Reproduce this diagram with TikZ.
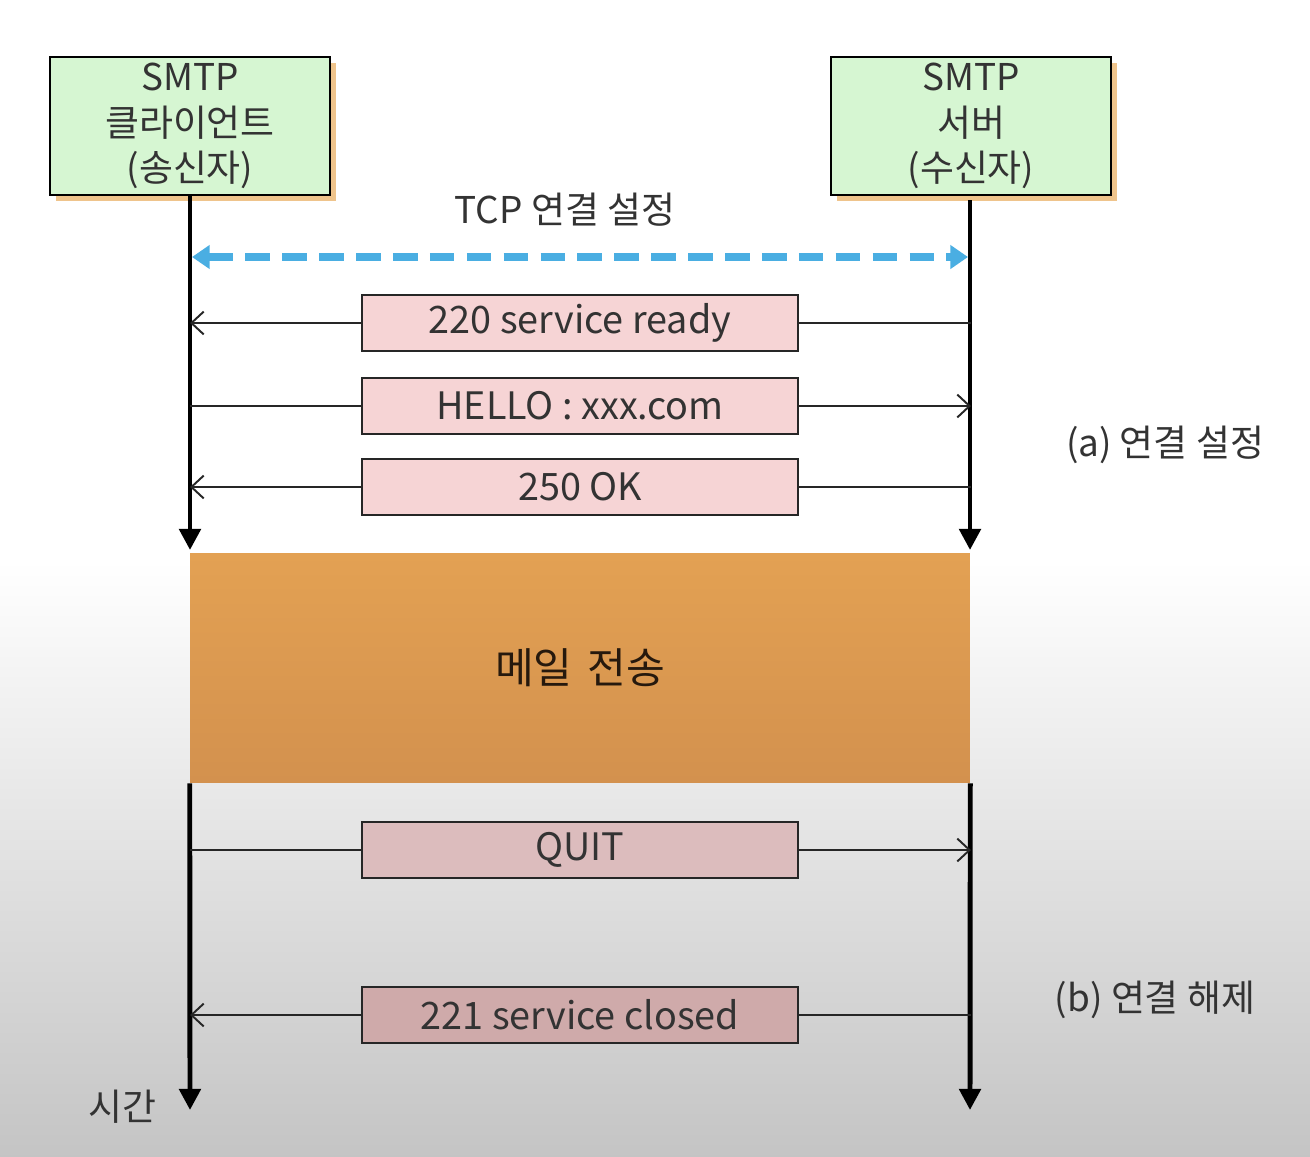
\documentclass[tikz,border=0pt]{standalone}
\usepackage{fontspec}
\setmainfont{Noto Sans CJK KR}
\usetikzlibrary{arrows.meta,shadows}

\definecolor{hostgreen}{HTML}{D6F6D2}
\definecolor{hostshadow}{HTML}{EFC48C}
\definecolor{tcpblue}{HTML}{4AAEE2}
\definecolor{mailtop}{HTML}{E3A153}
\definecolor{mailbot}{HTML}{D3914E}
\definecolor{txtgray}{HTML}{333333}
\definecolor{msgpink}{HTML}{F6D4D5}
\definecolor{quitpink}{HTML}{DCBCBD}
\definecolor{closepink}{HTML}{CFAAAA}

\tikzset{
  host/.style={draw=black,line width=1.2pt,fill=hostgreen,minimum width=5.6cm,minimum height=2.76cm,
    align=center,text=txtgray,font=\fontsize{21}{26}\selectfont,inner sep=0pt,
    drop shadow={shadow xshift=0.12cm,shadow yshift=-0.12cm,fill=hostshadow,opacity=1}},
  msg/.style={draw=black!85,line width=1.3pt,minimum width=8.72cm,minimum height=1.12cm,
    text=txtgray,font=\fontsize{21.5}{24}\selectfont,inner sep=0pt},
  life/.style={line width=2.8pt,-{Triangle[length=12pt,width=12pt]}},
  sig/.style={line width=1.1pt,black!85},
  lbl/.style={text=txtgray,font=\fontsize{21}{24}\selectfont}
}

\begin{document}
\begin{tikzpicture}[x=0.02cm,y=-0.02cm]
\useasboundingbox (0,0) rectangle (1310,1156);
\fill[white] (0,0) rectangle (1310,1156);
\shade[top color=white,bottom color=black!23] (0,560) rectangle (1310,1156);
\node[host](client) at (190,126){SMTP\\클라이언트\\(송신자)};
\node[host](server) at (971,126){SMTP\\서버\\(수신자)};
\node[minimum width=15.6cm,minimum height=4.6cm,top color=mailtop,bottom color=mailbot,
  text=black!80!brown,font=\fontsize{24}{28}\selectfont](xfer) at (580,668){메일\hspace{0.35em}전송};
\coordinate (cend) at (190,550);
\coordinate (send) at (970,550);
\coordinate (cbot) at (190,1110);
\coordinate (sbot) at (970,1110);
\draw[life] (client.south -| cend) -- (cend);
\draw[life] (970,200) -- (send);
\draw[life] (xfer.south west) -- (cbot);
\draw[life] (xfer.south east) -- (sbot);
\node[lbl](tcp) at (565,210){TCP 연결 설정};
\draw[tcpblue,line width=4pt,dash pattern=on 14pt off 7pt,
  {Triangle[length=10pt,width=13pt]}-{Triangle[length=10pt,width=13pt]}] (192,257) -- (968,257);
\node[msg,fill=msgpink](m220) at (580,323){220 service ready};
\node[msg,fill=msgpink](hello) at (580,406){HELLO : xxx.com};
\node[msg,fill=msgpink](ok) at (580,487){250 OK};
\node[msg,fill=quitpink](quit) at (580,850){QUIT};
\node[msg,fill=closepink](m221) at (580,1015){221 service closed};
\draw[sig] (m220.east) -- (m220.east -| server);
\draw[sig,-{Straight Barb[length=7pt,width=13pt]}] (m220.west) -- (m220.west -| client);
\draw[sig] (hello.west -| client) -- (hello.west);
\draw[sig,-{Straight Barb[length=7pt,width=13pt]}] (hello.east) -- (hello.east -| server);
\draw[sig] (ok.east) -- (ok.east -| server);
\draw[sig,-{Straight Barb[length=7pt,width=13pt]}] (ok.west) -- (ok.west -| client);
\draw[sig] (quit.west -| client) -- (quit.west);
\draw[sig,-{Straight Barb[length=7pt,width=13pt]}] (quit.east) -- (quit.east -| server);
\draw[sig] (m221.east) -- (m221.east -| server);
\draw[sig,-{Straight Barb[length=7pt,width=13pt]}] (m221.west) -- (m221.west -| client);
\node[lbl](seta) at (1165,445){(a) 연결 설정};
\node[lbl](setb) at (1155,1000){(b) 연결 해제};
\node[lbl](time) at (122,1107){시간};
\end{tikzpicture}
\end{document}
